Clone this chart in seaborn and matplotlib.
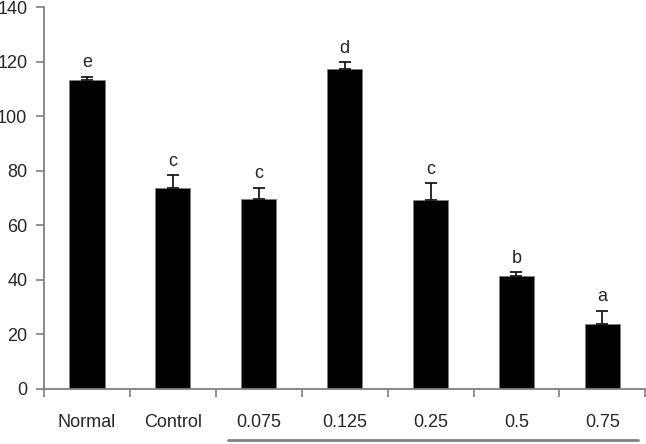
import numpy as np
import pandas as pd
import matplotlib
matplotlib.use("Agg")
import matplotlib.pyplot as plt
import seaborn as sns

groups = ["Normal", "Control", "0.075", "0.125", "0.25", "0.5", "0.75"]
means = [113.2, 73.7, 69.6, 117.3, 69.2, 41.5, 23.9]
errors = [1.2, 4.7, 4.1, 2.5, 6.3, 1.3, 4.8]
letters = ["e", "c", "c", "d", "c", "b", "a"]

def main():
    sns.set_style("white")
    plt.rcParams["font.family"] = ["Liberation Sans", "DejaVu Sans"]
    grey = "#808080"

    df = pd.DataFrame({"group": groups, "value": means})

    fig = plt.figure(figsize=(6.46, 4.44), dpi=100)
    ax = fig.add_axes([0.068, 0.124, 0.931, 0.86])

    sns.barplot(data=df, x="group", y="value", color="black", width=0.41,
                edgecolor=grey, linewidth=0.6, ax=ax)

    x = np.arange(len(groups))
    ax.errorbar(x, means, yerr=[np.zeros(len(errors)), errors], fmt="none",
                ecolor="#1a1a1a", elinewidth=1.3, capsize=4.5, capthick=1.3)

    for xi, m, e, lab in zip(x, means, errors, letters):
        ax.text(xi, m + e + 2.0, lab, ha="center", va="bottom", fontsize=13)

    ax.set_ylim(0, 140)
    ax.set_xlim(-0.5, len(groups) - 0.5)
    ax.set_yticks(np.arange(0, 141, 20))
    ax.set_xlabel("")
    ax.set_ylabel("")

    # ticks between the categories, labels centred under bars
    ax.set_xticks(x)
    ax.set_xticklabels(groups)
    ax.set_xticks(np.arange(-0.5, len(groups), 1.0), minor=True)
    ax.tick_params(axis="x", which="major", bottom=False, length=0, pad=18, labelsize=13)
    ax.tick_params(axis="x", which="minor", bottom=True, length=6, width=1.2,
                   color=grey, direction="out")
    ax.tick_params(axis="y", left=True, length=6, width=1.2, color=grey,
                   direction="out", labelsize=13, pad=6)

    sns.despine(ax=ax)
    for s in ["left", "bottom"]:
        ax.spines[s].set_color(grey)
        ax.spines[s].set_linewidth(1.3)

    # bracket under the concentration groups
    ax.plot([1.64, 6.42], [-0.134, -0.134], color=grey, lw=2,
            transform=ax.get_xaxis_transform(), clip_on=False)

    fig.savefig("out.png", dpi=100)

if __name__ == "__main__":
    main()
